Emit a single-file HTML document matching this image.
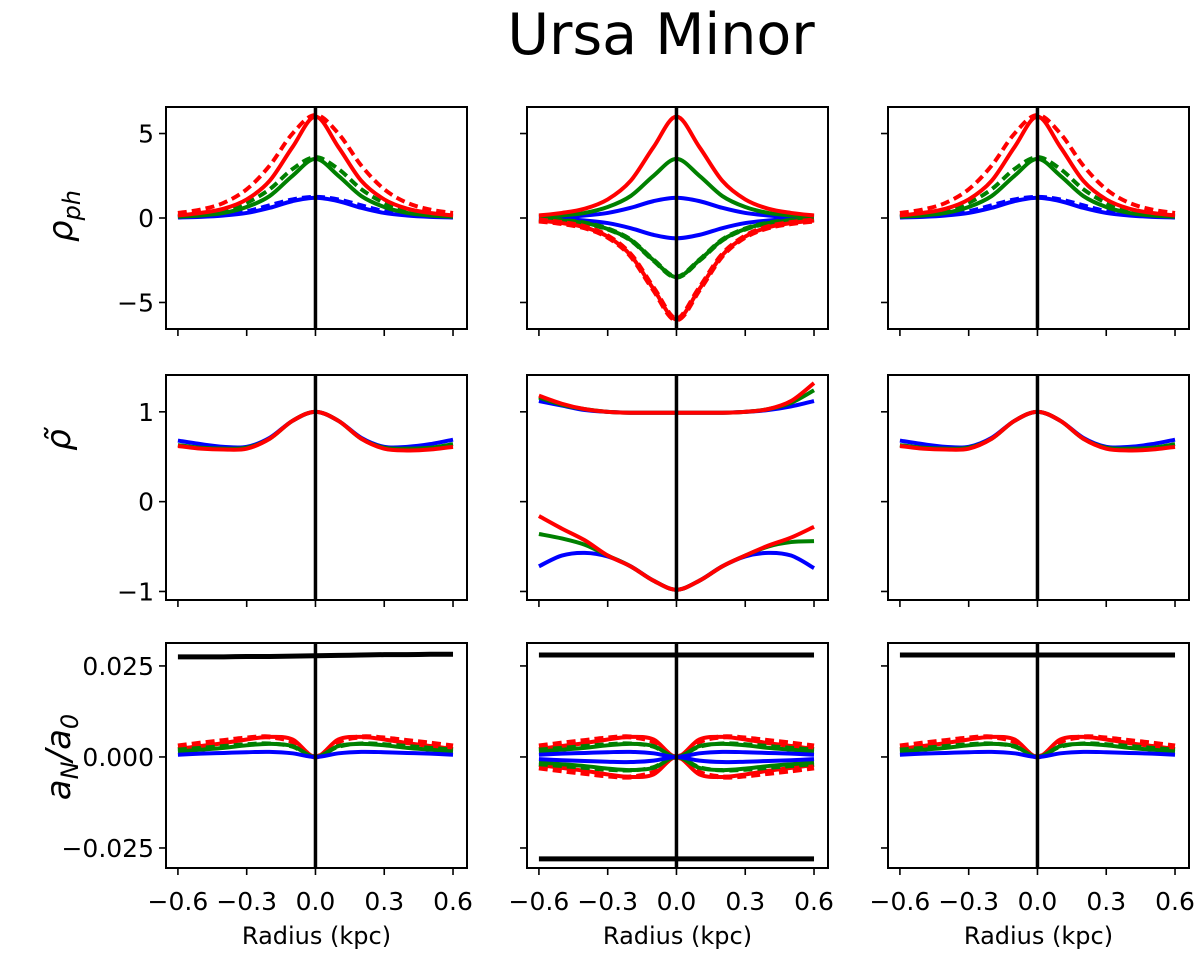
<!DOCTYPE html>
<html><head><meta charset="utf-8">
<style>
html,body{margin:0;padding:0;background:#fff;}
svg{display:block;font-family:"DejaVu Sans","Liberation Sans",sans-serif;}
</style></head>
<body>
<svg id="fig" width="1200" height="964" viewBox="0 0 1200 964" xmlns="http://www.w3.org/2000/svg">
<text x="661" y="54" font-size="57" text-anchor="middle">Ursa Minor</text>
<text transform="translate(72,216) rotate(-90)" font-size="34" font-style="italic" text-anchor="middle">ρ<tspan font-size="24" dy="8">ph</tspan></text>
<text transform="translate(70,440) rotate(-90)" font-size="34" font-style="italic" text-anchor="middle">ρ̃</text>
<text transform="translate(70,757) rotate(-90)" font-size="34" font-style="italic" text-anchor="middle">a<tspan font-size="24" dy="8">N</tspan><tspan dy="-8">/a</tspan><tspan font-size="24" dy="8">0</tspan></text>
</svg>
<script>
// ---- data ----
const radius = [-0.6,-0.5,-0.4,-0.3,-0.2,-0.1,0,0.1,0.2,0.3,0.4,0.5,0.6];
// Row 1: photon density (half profiles r=0..0.6, mirrored)
const rhoRedSolidHalf   = [6.0,4.2,2.2,1.1,0.55,0.3,0.15];
const rhoRedDashedHalf  = [6.1,5.0,3.1,1.7,0.9,0.5,0.3];
const rhoGreenSolidHalf = [3.5,2.5,1.3,0.65,0.3,0.15,0.08];
const rhoGreenDashedHalf= [3.6,2.9,1.7,0.9,0.45,0.2,0.1];
const rhoBlueSolidHalf  = [1.2,1.0,0.6,0.3,0.15,0.07,0.03];
const rhoBlueDashedHalf = [1.25,1.1,0.75,0.4,0.2,0.1,0.05];
// Row 2: normalized density
const tildeRed   = [0.62,0.59,0.58,0.59,0.70,0.90,1.0,0.90,0.70,0.59,0.57,0.58,0.61];
const tildeGreen = [0.63,0.60,0.59,0.60,0.70,0.90,1.0,0.90,0.70,0.60,0.59,0.60,0.64];
const tildeBlue  = [0.68,0.64,0.61,0.61,0.71,0.90,1.0,0.90,0.71,0.61,0.61,0.64,0.69];
const midUpperRed   = [1.18,1.09,1.03,1.0,0.99,0.99,0.99,0.99,0.99,1.0,1.03,1.12,1.32];
const midUpperGreen = [1.16,1.08,1.03,1.0,0.99,0.99,0.99,0.99,0.99,1.0,1.03,1.10,1.24];
const midUpperBlue  = [1.12,1.07,1.02,1.0,0.99,0.99,0.99,0.99,0.99,1.0,1.02,1.06,1.12];
const midLowerRed   = [-0.16,-0.30,-0.43,-0.60,-0.72,-0.88,-0.98,-0.88,-0.72,-0.60,-0.49,-0.40,-0.28];
const midLowerGreen = [-0.36,-0.41,-0.48,-0.60,-0.72,-0.88,-0.98,-0.88,-0.72,-0.60,-0.50,-0.45,-0.44];
const midLowerBlue  = [-0.72,-0.60,-0.57,-0.61,-0.72,-0.88,-0.98,-0.88,-0.72,-0.61,-0.57,-0.60,-0.74];
// Row 3: Newtonian acceleration (half profiles)
const accRedSolidHalf   = [0,0.0048,0.0055,0.0048,0.0038,0.003,0.0022];
const accRedDashedHalf  = [0,0.0042,0.0055,0.0052,0.0045,0.0038,0.003];
const accGreenSolidHalf = [0,0.0030,0.0036,0.0032,0.0025,0.002,0.0015];
const accGreenDashedHalf= [0,0.0028,0.0037,0.0035,0.003,0.0025,0.002];
const accBlueHalf       = [0,0.001,0.0014,0.0013,0.0011,0.0009,0.0006];
const accBlackLeft  = [0.0275,0.0275,0.0275,0.0276,0.0276,0.0277,0.0278,0.0279,0.0280,0.0281,0.0281,0.0282,0.0282];
const accBlackFlat  = [0.028,0.028,0.028,0.028,0.028,0.028,0.028,0.028,0.028,0.028,0.028,0.028,0.028];
const xTicks = [-0.6,-0.3,0.0,0.3,0.6];
const xTickLabels = ['−0.6','−0.3','0.0','0.3','0.6'];
const row1Ticks = [5,0,-5], row1Labels=['5','0','−5'];
const row2Ticks = [1,0,-1], row2Labels=['1','0','−1'];
const row3Ticks = [0.025,0,-0.025], row3Labels=['0.025','0.000','−0.025'];

const svg=document.getElementById('fig');
const NS='http://www.w3.org/2000/svg';
function mirror(h){const a=h.slice(1).reverse();return a.concat(h);}
function neg(a){return a.map(v=>-v);}
function mk(tag,attrs,parent){const e=document.createElementNS(NS,tag);for(const k in attrs)e.setAttribute(k,attrs[k]);(parent||svg).appendChild(e);return e;}

const cols=[[166,467],[527,828],[888,1189]];
const rows=[{y0:107,y1:329,lo:-6.57,hi:6.57,t:row1Ticks,l:row1Labels,n:'rho-ph'},
            {y0:375,y1:600,lo:-1.095,hi:1.41,t:row2Ticks,l:row2Labels,n:'rho-tilde'},
            {y0:643,y1:868,lo:-0.0305,hi:0.0313,t:row3Ticks,l:row3Labels,n:'accel'}];
const XLO=-0.652,XHI=0.661;

function path(xs,ys,sx,sy){
  const P=xs.map((x,i)=>[sx(x),sy(ys[i])]);
  let d='M'+P[0][0].toFixed(2)+','+P[0][1].toFixed(2);
  for(let i=0;i<P.length-1;i++){
    const p0=P[Math.max(i-1,0)],p1=P[i],p2=P[i+1],p3=P[Math.min(i+2,P.length-1)];
    const c1=[p1[0]+(p2[0]-p0[0])/6,p1[1]+(p2[1]-p0[1])/6];
    const c2=[p2[0]-(p3[0]-p1[0])/6,p2[1]-(p3[1]-p1[1])/6];
    d+='C'+c1[0].toFixed(2)+','+c1[1].toFixed(2)+' '+c2[0].toFixed(2)+','+c2[1].toFixed(2)+' '+p2[0].toFixed(2)+','+p2[1].toFixed(2);
  }
  return d;
}

function panel(ri,ci,series){
  const r=rows[ri],[x0,x1]=cols[ci];
  const sx=v=>x0+(v-XLO)/(XHI-XLO)*(x1-x0);
  const sy=v=>r.y1-(v-r.lo)/(r.hi-r.lo)*(r.y1-r.y0);
  const g=mk('g',{});
  
  
  const cp='clip'+ri+ci;
  const c=mk('clipPath',{id:cp},g);mk('rect',{x:x0,y:r.y0,width:x1-x0,height:r.y1-r.y0},c);
  const pg=mk('g',{'clip-path':'url(#'+cp+')'},g);
  series.forEach(s=>{
    const p=mk('path',{d:path(radius,s.v,sx,sy),fill:'none',stroke:s.c,'stroke-width':s.w||4,'stroke-linecap':'butt','stroke-linejoin':'round'},pg);
    if(s.dash)p.setAttribute('stroke-dasharray',s.dash);
    
    
  });
  const vl=mk('line',{x1:sx(0),x2:sx(0),y1:r.y0,y2:r.y1,stroke:'#000','stroke-width':3.5},g);
  
  
  const fr=mk('rect',{x:x0,y:r.y0,width:x1-x0,height:r.y1-r.y0,fill:'none',stroke:'#000','stroke-width':2},g);
  
  
  xTicks.forEach((t,i)=>{
    mk('line',{x1:sx(t),x2:sx(t),y1:r.y1,y2:r.y1+7,stroke:'#000','stroke-width':1.6},g);
    if(ri===2){
      const tx=mk('text',{x:sx(t),y:910,'font-size':25,'text-anchor':'middle'},g);
      tx.textContent=xTickLabels[i];
      
      
    }
  });
  r.t.forEach((t,i)=>{
    mk('line',{x1:x0-7,x2:x0,y1:sy(t),y2:sy(t),stroke:'#000','stroke-width':1.6},g);
    if(ci===0){
      const tx=mk('text',{x:x0-12,y:sy(t)+9,'font-size':25,'text-anchor':'end'},g);
      tx.textContent=r.l[i];
      
      
    }
  });
  if(ri===2){
    const xl=mk('text',{x:(x0+x1)/2,y:944,'font-size':24,'text-anchor':'middle'},g);
    xl.textContent='Radius (kpc)';
    
    
  }
}
const D='9 5';
const row1Side=[
 {v:mirror(rhoBlueDashedHalf),c:'#0000ff',dash:D,n:'blue-dashed'},
 {v:mirror(rhoBlueSolidHalf),c:'#0000ff',n:'blue-solid'},
 {v:mirror(rhoGreenDashedHalf),c:'#008000',dash:D,n:'green-dashed'},
 {v:mirror(rhoGreenSolidHalf),c:'#008000',n:'green-solid'},
 {v:mirror(rhoRedDashedHalf),c:'#ff0000',dash:D,n:'red-dashed'},
 {v:mirror(rhoRedSolidHalf),c:'#ff0000',n:'red-solid'}];
panel(0,0,row1Side);
panel(0,1,[
 {v:mirror(rhoBlueSolidHalf),c:'#0000ff',n:'blue-positive'},
 {v:neg(mirror(rhoBlueSolidHalf)),c:'#0000ff',n:'blue-negative'},
 {v:neg(mirror(rhoGreenSolidHalf)),c:'#008000',dash:D,w:5,n:'green-negative-dashed'},
 {v:mirror(rhoGreenSolidHalf),c:'#008000',n:'green-positive'},
 {v:neg(mirror(rhoGreenSolidHalf)),c:'#008000',n:'green-negative'},
 {v:neg(mirror(rhoRedSolidHalf)),c:'#ff0000',dash:D,w:6,n:'red-negative-dashed'},
 {v:mirror(rhoRedSolidHalf),c:'#ff0000',n:'red-positive'},
 {v:neg(mirror(rhoRedSolidHalf)),c:'#ff0000',n:'red-negative'}]);
panel(0,2,row1Side);
const row2Side=[
 {v:tildeBlue,c:'#0000ff',n:'blue'},{v:tildeGreen,c:'#008000',n:'green'},{v:tildeRed,c:'#ff0000',n:'red'}];
panel(1,0,row2Side);
panel(1,1,[
 {v:midUpperBlue,c:'#0000ff',n:'blue-upper'},{v:midUpperGreen,c:'#008000',n:'green-upper'},{v:midUpperRed,c:'#ff0000',n:'red-upper'},
 {v:midLowerBlue,c:'#0000ff',n:'blue-lower'},{v:midLowerGreen,c:'#008000',n:'green-lower'},{v:midLowerRed,c:'#ff0000',n:'red-lower'}]);
panel(1,2,row2Side);
function accSide(black){return [
 {v:black,c:'#000',w:5,n:'black-accel'},
 {v:mirror(accRedDashedHalf),c:'#ff0000',dash:D,w:5,n:'red-dashed'},
 {v:mirror(accRedSolidHalf),c:'#ff0000',n:'red-solid'},
 {v:mirror(accGreenDashedHalf),c:'#008000',dash:D,n:'green-dashed'},
 {v:mirror(accGreenSolidHalf),c:'#008000',n:'green-solid'},
 {v:mirror(accBlueHalf),c:'#0000ff',n:'blue'}];}
panel(2,0,accSide(accBlackLeft));
const mid3=accSide(accBlackFlat);
mid3.push({v:neg(accBlackFlat),c:'#000',w:5,n:'black-accel-negative'},
 {v:neg(mirror(accRedDashedHalf)),c:'#ff0000',dash:D,w:5,n:'red-dashed-negative'},
 {v:neg(mirror(accRedSolidHalf)),c:'#ff0000',n:'red-solid-negative'},
 {v:neg(mirror(accGreenDashedHalf)),c:'#008000',dash:D,n:'green-dashed-negative'},
 {v:neg(mirror(accGreenSolidHalf)),c:'#008000',n:'green-solid-negative'},
 {v:neg(mirror(accBlueHalf)),c:'#0000ff',n:'blue-negative'});
panel(2,1,mid3);
panel(2,2,accSide(accBlackFlat));
</script>
</body></html>
